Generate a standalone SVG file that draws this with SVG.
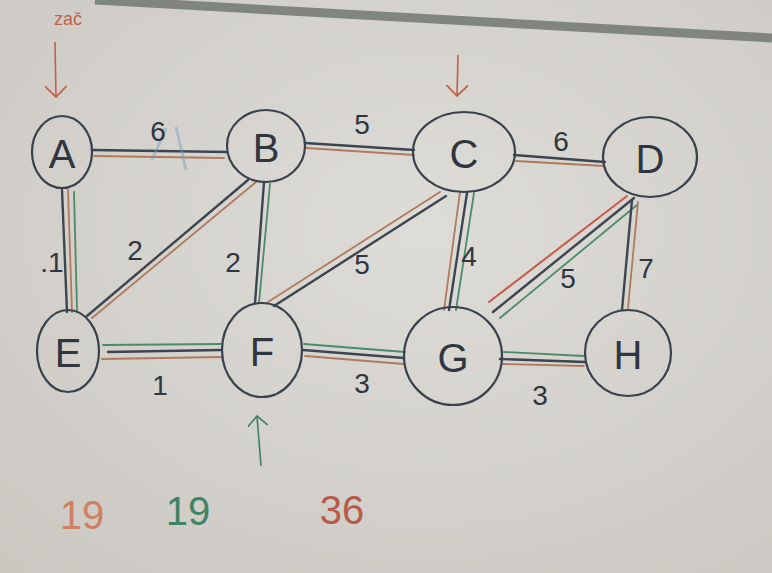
<svg xmlns="http://www.w3.org/2000/svg" width="772" height="573" viewBox="0 0 772 573">
<defs>
<radialGradient id="bg" cx="0.55" cy="0.4" r="0.8">
<stop offset="0" stop-color="#dedcd7"/>
<stop offset="1" stop-color="#cbc8c2"/>
</radialGradient>
<marker id="arrR" viewBox="0 0 20 20" refX="10" refY="10" markerWidth="22" markerHeight="22" markerUnits="userSpaceOnUse" orient="auto">
<path d="M0,0 L10,10 L0,20" fill="none" stroke="#c0604a" stroke-width="1.6"/>
</marker>
<marker id="arrG" viewBox="0 0 20 20" refX="10" refY="10" markerWidth="20" markerHeight="20" markerUnits="userSpaceOnUse" orient="auto">
<path d="M0,0 L10,10 L0,20" fill="none" stroke="#3e8060" stroke-width="1.6"/>
</marker>
</defs>
<style>
.node ellipse{fill:none;stroke:#39414c;stroke-width:2.2}
.node text{font-family:"Liberation Sans",sans-serif;font-size:40px;fill:#2f3640;text-anchor:middle;dominant-baseline:central}
.dk{stroke:#3c4550;stroke-width:2.4;fill:none;stroke-linecap:round}
.or{stroke:#b07a5e;stroke-width:1.8;fill:none;stroke-linecap:round}
.gr{stroke:#4c8a6c;stroke-width:1.8;fill:none;stroke-linecap:round}
.rd{stroke:#c45a48;stroke-width:2;fill:none;stroke-linecap:round}
.lbl{font-family:"Liberation Sans",sans-serif;font-size:28px;fill:#2f3640;text-anchor:middle;dominant-baseline:central}
.num{font-family:"Liberation Sans",sans-serif;font-size:40px;text-anchor:middle;dominant-baseline:central}
</style>
<rect width="772" height="573" fill="url(#bg)"/>
<line x1="95" y1="0" x2="772" y2="38" stroke="#80857f" stroke-width="9"/>
<g id="connectors">
<!-- A-B -->
<path class="dk" d="M92,150 L227,152"/><path class="or" d="M94,156 L224,158"/>
<!-- B-C -->
<path class="dk" d="M305,143 L414,150"/><path class="or" d="M306,148 L414,155"/>
<!-- C-D -->
<path class="dk" d="M514,155 L605,162"/><path class="or" d="M516,161 L604,166"/>
<!-- A-E -->
<path class="dk" d="M62,190 L67,312"/><path class="or" d="M68,190 L72,312"/><path class="gr" d="M74,192 L77,310"/>
<!-- B-E -->
<path class="dk" d="M248,180 L87,316"/><path class="or" d="M256,182 L92,318"/>
<!-- B-F -->
<path class="dk" d="M264,182 L255,303"/><path class="gr" d="M270,184 L259,303"/>
<!-- C-F -->
<path class="or" d="M440,192 L268,302"/><path class="dk" d="M446,196 L274,306"/>
<!-- C-G -->
<path class="or" d="M460,192 L444,310"/><path class="dk" d="M467,193 L449,310"/><path class="gr" d="M474,193 L456,310"/>
<!-- D-G -->
<path class="rd" d="M627,196 L489,302"/><path class="dk" d="M634,198 L493,312"/><path class="gr" d="M637,205 L500,318"/>
<!-- D-H -->
<path class="dk" d="M632,200 L622,310"/><path class="or" d="M638,202 L628,308"/>
<!-- E-F -->
<path class="gr" d="M103,345 L221,344"/><path class="dk" d="M108,352 L220,350"/><path class="or" d="M102,359 L223,357"/>
<!-- F-G -->
<path class="gr" d="M304,344 L405,352"/><path class="dk" d="M303,350 L404,358"/><path class="or" d="M305,356 L404,364"/>
<!-- G-H -->
<path class="gr" d="M504,352 L584,356"/><path class="dk" d="M500,359 L585,362"/><path class="or" d="M502,364 L584,366"/>
</g>
<g id="edge-labels">
<path d="M152,160 L166,128 M176,127 L186,170" stroke="#6f9fbf" stroke-width="3" opacity="0.45" fill="none"/>
<text class="lbl" x="158" y="131">6</text>
<text class="lbl" x="362" y="124">5</text>
<text class="lbl" x="561" y="141">6</text>
<text class="lbl" x="52" y="262">.1</text>
<text class="lbl" x="135" y="250">2</text>
<text class="lbl" x="233" y="262">2</text>
<text class="lbl" x="362" y="264">5</text>
<text class="lbl" x="469" y="256">4</text>
<text class="lbl" x="568" y="278" font-size="22">5</text>
<text class="lbl" x="646" y="268">7</text>
<text class="lbl" x="160" y="385">1</text>
<text class="lbl" x="362" y="383">3</text>
<text class="lbl" x="540" y="395">3</text>
</g>
<g id="node-A" class="node"><ellipse cx="62" cy="152" rx="30" ry="36"/><text x="62" y="154">A</text></g>
<g id="node-B" class="node"><ellipse cx="266" cy="146" rx="39" ry="36"/><text x="266" y="148">B</text></g>
<g id="node-C" class="node"><ellipse cx="464" cy="152" rx="51" ry="40"/><text x="464" y="154">C</text></g>
<g id="node-D" class="node"><ellipse cx="650" cy="157" rx="47" ry="40"/><text x="650" y="159">D</text></g>
<g id="node-E" class="node"><ellipse cx="68" cy="351" rx="31" ry="41"/><text x="68" y="353">E</text></g>
<g id="node-F" class="node"><ellipse cx="262" cy="350" rx="40" ry="47"/><text x="262" y="352">F</text></g>
<g id="node-G" class="node"><ellipse cx="453" cy="356" rx="49" ry="49"/><text x="453" y="358">G</text></g>
<g id="node-H" class="node"><ellipse cx="628" cy="353" rx="43" ry="43"/><text x="628" y="355">H</text></g>
<g id="annotations">
<text x="68" y="25" font-family="Liberation Sans, sans-serif" font-size="18" fill="#c0604a" text-anchor="middle">zač</text>
<line x1="55" y1="42" x2="56" y2="97" stroke="#c0604a" stroke-width="1.6" marker-end="url(#arrR)"/>
<line x1="458" y1="55" x2="457" y2="96" stroke="#c0604a" stroke-width="1.6" marker-end="url(#arrR)"/>
<line x1="261" y1="466" x2="257" y2="416" stroke="#3e8060" stroke-width="1.6" marker-end="url(#arrG)"/>
<text class="num" x="82" y="515" fill="#cf7f62">19</text>
<text class="num" x="188" y="511" fill="#3f8466">19</text>
<text class="num" x="342" y="510" fill="#b85a48">36</text>
</g>
</svg>
